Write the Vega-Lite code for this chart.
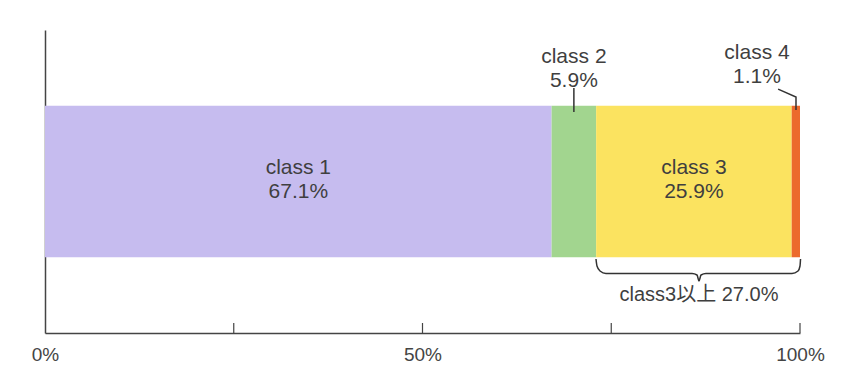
{
  "$schema": "https://vega.github.io/schema/vega-lite/v6.json",
  "width": 755,
  "height": 303,
  "autosize": "none",
  "padding": {"left": 45, "top": 30, "right": 42, "bottom": 53},
  "background": "white",
  "config": {"view": {"stroke": null}, "text": {"font": "Liberation Sans, Noto Sans CJK JP"}},
  "datasets": {
    "classes": [
      {"name": "class 1", "pct": 67.1, "ord": 1, "pos": "in"},
      {"name": "class 2", "pct": 5.9, "ord": 2, "pos": "out"},
      {"name": "class 3", "pct": 25.9, "ord": 3, "pos": "in"},
      {"name": "class 4", "pct": 1.1, "ord": 4, "pos": "out4"}
    ],
    "brace": [
      {"x": 72.98, "y": 2.442, "i": 1},
      {"x": 73.11, "y": 2.211, "i": 2},
      {"x": 73.51, "y": 2.046, "i": 3},
      {"x": 74.3, "y": 1.964, "i": 4},
      {"x": 85.7, "y": 1.964, "i": 5},
      {"x": 86.36, "y": 1.914, "i": 6},
      {"x": 86.62, "y": 1.716, "i": 7},
      {"x": 86.89, "y": 1.914, "i": 8},
      {"x": 87.55, "y": 1.964, "i": 9},
      {"x": 98.94, "y": 1.964, "i": 10},
      {"x": 99.74, "y": 2.046, "i": 11},
      {"x": 100.0, "y": 2.211, "i": 12},
      {"x": 100.07, "y": 2.442, "i": 13}
    ],
    "leader4": [
      {"x": 97.1, "y": 8.05, "i": 1},
      {"x": 99.47, "y": 7.79, "i": 2},
      {"x": 99.47, "y": 7.36, "i": 3}
    ],
    "ticks": [{"v": 25}, {"v": 50}, {"v": 75}, {"v": 100}]
  },
  "layer": [
    {
      "data": {"name": "classes"},
      "transform": [
        {"stack": "pct", "groupby": [], "sort": [{"field": "ord"}], "as": ["x0", "x1"]}
      ],
      "mark": {"type": "bar"},
      "encoding": {
        "x": {"field": "x0", "type": "quantitative", "scale": {"domain": [0, 100], "nice": false},
          "axis": {"values": [0, 25, 50, 75, 100], "labelExpr": "datum.value % 50 == 0 ? datum.value + '%' : ''", "title": null, "ticks": false, "grid": false, "domainColor": "#444", "domainWidth": 1.5, "labelFont": "Liberation Sans", "labelFontSize": 19, "labelColor": "#444", "labelPadding": 12, "labelFlush": false}},
        "x2": {"field": "x1"},
        "y": {"datum": 7.5, "type": "quantitative", "scale": {"domain": [0, 10], "nice": false},
          "axis": {"title": null, "ticks": false, "labels": false, "grid": false, "domainColor": "#444", "domainWidth": 1.5}},
        "y2": {"datum": 2.5},
        "color": {"field": "name", "type": "nominal", "legend": null,
          "scale": {"domain": ["class 1", "class 2", "class 3", "class 4"], "range": ["#c6bcef", "#a2d58f", "#fbe360", "#ec6a2c"]}}
      }
    },
    {
      "data": {"name": "ticks"},
      "mark": {"type": "rule", "color": "#444", "strokeWidth": 1.2},
      "encoding": {
        "x": {"field": "v", "type": "quantitative"},
        "y": {"datum": 0},
        "y2": {"datum": 0.33}
      }
    },
    {
      "data": {"name": "classes"},
      "transform": [
        {"stack": "pct", "groupby": [], "sort": [{"field": "ord"}], "as": ["x0", "x1"]},
        {"calculate": "(datum.x0 + datum.x1) / 2", "as": "mid"},
        {"calculate": "datum.name + '\\n' + format(datum.pct, '.1f') + '%'", "as": "lab"},
        {"filter": "datum.pos == 'in'"}
      ],
      "mark": {"type": "text", "fontSize": 21, "color": "#3f3f3f", "lineBreak": "\n", "lineHeight": 24, "baseline": "middle"},
      "encoding": {
        "x": {"field": "mid", "type": "quantitative"},
        "y": {"datum": 5.446},
        "text": {"field": "lab"}
      }
    },
    {
      "data": {"name": "classes"},
      "transform": [
        {"stack": "pct", "groupby": [], "sort": [{"field": "ord"}], "as": ["x0", "x1"]},
        {"calculate": "(datum.x0 + datum.x1) / 2", "as": "mid"},
        {"calculate": "datum.name + '\\n' + format(datum.pct, '.1f') + '%'", "as": "lab"},
        {"filter": "datum.pos == 'out'"}
      ],
      "mark": {"type": "text", "fontSize": 21, "color": "#3f3f3f", "lineBreak": "\n", "lineHeight": 24, "baseline": "middle"},
      "encoding": {
        "x": {"field": "mid", "type": "quantitative"},
        "y": {"datum": 9.109},
        "text": {"field": "lab"}
      }
    },
    {
      "data": {"name": "classes"},
      "transform": [
        {"stack": "pct", "groupby": [], "sort": [{"field": "ord"}], "as": ["x0", "x1"]},
        {"calculate": "(datum.x0 + datum.x1) / 2", "as": "mid"},
        {"filter": "datum.pos == 'out'"}
      ],
      "mark": {"type": "rule", "color": "#333", "strokeWidth": 1.5},
      "encoding": {
        "x": {"field": "mid", "type": "quantitative"},
        "y": {"datum": 8.086},
        "y2": {"datum": 7.294}
      }
    },
    {
      "data": {"name": "classes"},
      "transform": [
        {"calculate": "datum.name + '\\n' + format(datum.pct, '.1f') + '%'", "as": "lab"},
        {"filter": "datum.pos == 'out4'"}
      ],
      "mark": {"type": "text", "fontSize": 21, "color": "#3f3f3f", "lineBreak": "\n", "lineHeight": 24, "baseline": "middle"},
      "encoding": {
        "x": {"datum": 94.3},
        "y": {"datum": 9.24},
        "text": {"field": "lab"}
      }
    },
    {
      "data": {"name": "leader4"},
      "mark": {"type": "line", "color": "#333", "strokeWidth": 1.5},
      "encoding": {
        "x": {"field": "x", "type": "quantitative"},
        "y": {"field": "y", "type": "quantitative"},
        "order": {"field": "i"}
      }
    },
    {
      "data": {"name": "brace"},
      "mark": {"type": "line", "color": "#333", "strokeWidth": 1.5, "interpolate": "monotone"},
      "encoding": {
        "x": {"field": "x", "type": "quantitative"},
        "y": {"field": "y", "type": "quantitative"},
        "order": {"field": "i"}
      }
    },
    {
      "data": {"values": [{"t": "class3以上 27.0%"}]},
      "mark": {"type": "text", "fontSize": 20, "color": "#3f3f3f", "baseline": "middle"},
      "encoding": {
        "x": {"datum": 86.62},
        "y": {"datum": 1.254},
        "text": {"field": "t"}
      }
    }
  ]
}
